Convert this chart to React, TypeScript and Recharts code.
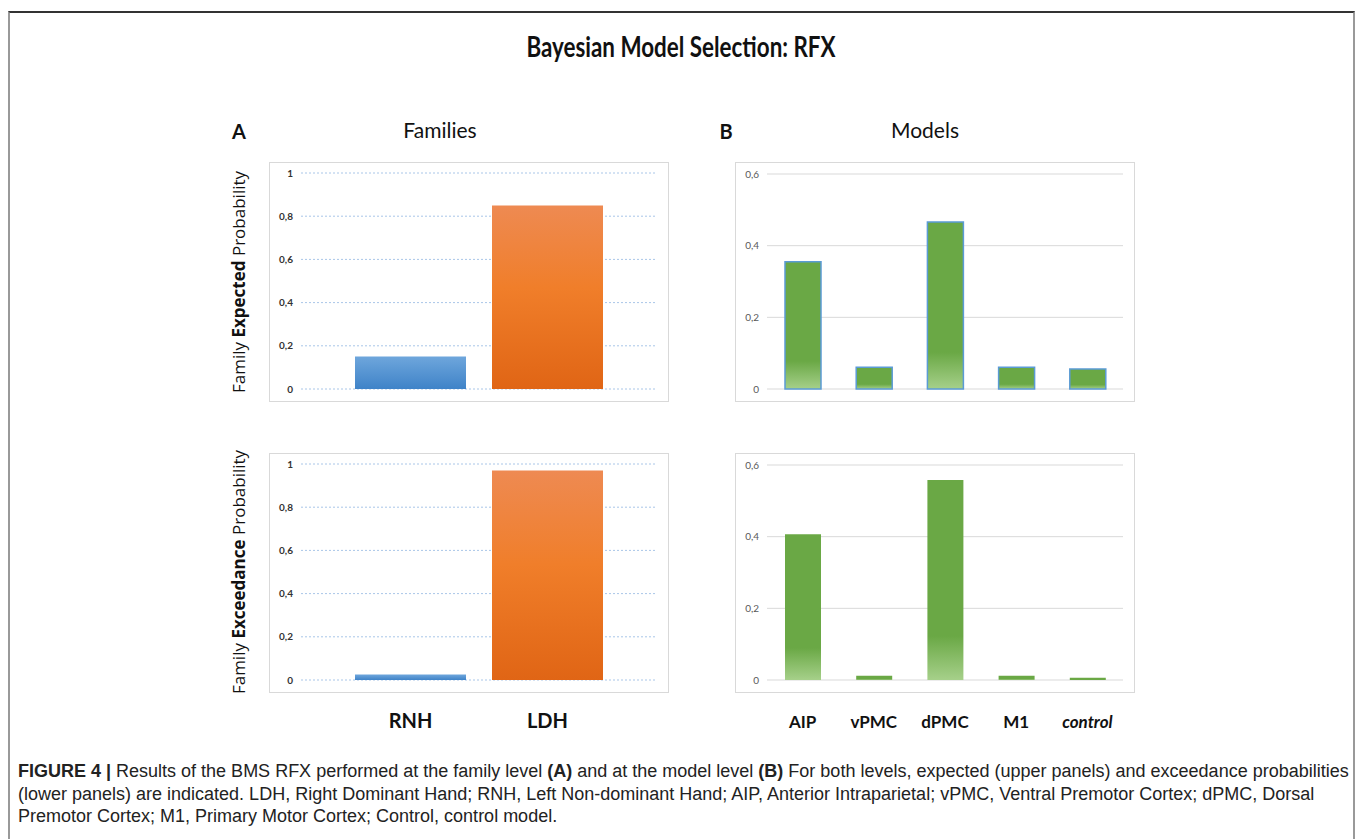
import React from 'react';
import { BarChart, Bar, XAxis, YAxis, CartesianGrid, Cell } from 'recharts';

// families panel (A)
const families = ['RNH', 'LDH'];
const familyExpected = [0.15, 0.85];
const familyExceedance = [0.025, 0.97];
const familyTicks = [0, 0.2, 0.4, 0.6, 0.8, 1];

// models panel (B)
const models = ['AIP', 'vPMC', 'dPMC', 'M1', 'control'];
const modelExpected = [0.355, 0.061, 0.466, 0.061, 0.056];
const modelExceedance = [0.407, 0.012, 0.558, 0.012, 0.006];
const modelTicks = [0, 0.2, 0.4, 0.6];

const familyColors = ['gBlue', 'gOrange'];

const fmt = (v: number) => String(v).replace('.', ',');

const CAL = 'Lato, "Open Sans", sans-serif';

const FamilyTick = (props: any) => {
  const { x, y, payload } = props;
  return (
    <text x={x} y={y} dy="0.71em" textAnchor="middle" fontFamily={CAL} fontWeight={700} fontSize={20} fill="#111">
      {payload.value}
    </text>
  );
};

const ModelTick = (props: any) => {
  const { x, y, payload } = props;
  return (
    <text x={x} y={y} dy="0.71em" textAnchor="middle" fontFamily={CAL} fontWeight={700} fontSize={17}
      fontStyle={payload.value === 'control' ? 'italic' : 'normal'} fill="#111">
      {payload.value}
    </text>
  );
};

const box = (left: number, top: number): React.CSSProperties => ({
  position: 'absolute', left, top, width: 398, height: 238, border: '1px solid #d9d9d9',
});

const FamilyChart = ({ values, top, showX, id }: { values: number[]; top: number; showX: boolean; id: string }) => {
  const data = families.map((name, i) => ({ name, value: values[i] }));
  return (
    <div style={{ position: 'absolute', left: 269, top }}>
      <BarChart width={400} height={showX ? 290 : 240} data={data} margin={{ top: 11, right: 12, bottom: 13, left: 0 }}>
        <defs>
          <linearGradient id={`gBlue${id}`} x1="0" y1="0" x2="0" y2="1">
            <stop offset="0%" stopColor="#6ea6dc" />
            <stop offset="100%" stopColor="#3f83c8" />
          </linearGradient>
          <linearGradient id={`gOrange${id}`} x1="0" y1="0" x2="0" y2="1">
            <stop offset="0%" stopColor="#ee8a52" />
            <stop offset="45%" stopColor="#f07e2a" />
            <stop offset="100%" stopColor="#e06515" />
          </linearGradient>
        </defs>
        <CartesianGrid vertical={false} stroke="#a9c6e8" strokeDasharray="2 2" />
        <XAxis dataKey="name" hide={!showX} height={50} axisLine={false} tickLine={false}
          padding={{ left: 41, right: 41 }} tick={<FamilyTick />} tickMargin={28} interval={0} />
        <YAxis width={32} domain={[0, 1]} ticks={familyTicks} tickFormatter={fmt} axisLine={false} tickLine={false}
          tick={{ fontFamily: CAL, fontWeight: 700, fontSize: 10, fill: '#333' }} />
        <Bar dataKey="value" barSize={111} isAnimationActive={false}>
          {data.map((d, i) => (
            <Cell key={d.name} fill={`url(#${familyColors[i]}${id})`} />
          ))}
        </Bar>
      </BarChart>
    </div>
  );
};

const ModelChart = ({ values, top, showX, outlined, id }: { values: number[]; top: number; showX: boolean; outlined: boolean; id: string }) => {
  const data = models.map((name, i) => ({ name, value: values[i] }));
  return (
    <div style={{ position: 'absolute', left: 735, top }}>
      <BarChart width={400} height={showX ? 290 : 240} data={data} margin={{ top: 12, right: 12, bottom: 13, left: 0 }}>
        <defs>
          <linearGradient id={`gGreen${id}`} x1="0" y1="0" x2="0" y2="1">
            <stop offset="0%" stopColor="#6aa845" />
            <stop offset="78%" stopColor="#6aa845" />
            <stop offset="100%" stopColor="#a6d08a" />
          </linearGradient>
        </defs>
        <CartesianGrid vertical={false} stroke="#d9d9d9" />
        <XAxis dataKey="name" hide={!showX} height={50} axisLine={false} tickLine={false}
          tick={<ModelTick />} tickMargin={30} interval={0} />
        <YAxis width={32} domain={[0, 0.6]} ticks={modelTicks} tickFormatter={fmt} axisLine={false} tickLine={false}
          tick={{ fontFamily: CAL, fontSize: 10, fill: '#595959' }} />
        <Bar dataKey="value" barSize={36} fill={`url(#gGreen${id})`}
          stroke={outlined ? '#5b9bd5' : 'none'} strokeWidth={1.5} isAnimationActive={false} />
      </BarChart>
    </div>
  );
};

const sideLabel = (top: number): React.CSSProperties => ({
  position: 'absolute', left: 238, top, transform: 'translate(-50%, -50%) rotate(-90deg)',
  whiteSpace: 'nowrap', fontFamily: '"Open Sans", sans-serif', fontSize: 17, color: '#111',
});

const panelHead: React.CSSProperties = {
  position: 'absolute', fontFamily: CAL, fontSize: 20, color: '#111', transform: 'translate(-50%, -50%)', whiteSpace: 'nowrap',
};

export default function App() {
  return (
    <div style={{ position: 'absolute', left: 0, top: 0, width: 1360, height: 839, background: '#fff', overflow: 'hidden' }}>
      <div style={{
        position: 'absolute', left: 8, top: 11, width: 1343, height: 840,
        borderTop: '2px solid #333', borderLeft: '2px solid #999', borderRight: '2px solid #999',
      }} />

      <div style={{ ...panelHead, left: 681, top: 46, fontSize: 28, fontWeight: 700, transform: 'translate(-50%, -50%) scaleX(0.8)' }}>
        Bayesian Model Selection: RFX
      </div>
      <div style={{ ...panelHead, left: 239, top: 131, fontWeight: 700 }}>A</div>
      <div style={{ ...panelHead, left: 440, top: 129, fontSize: 21 }}>Families</div>
      <div style={{ ...panelHead, left: 726, top: 131, fontWeight: 700 }}>B</div>
      <div style={{ ...panelHead, left: 925, top: 129, fontSize: 21 }}>Models</div>

      <div style={sideLabel(282)}>Family <b>Expected</b> Probability</div>
      <div style={sideLabel(572)}>Family <b>Exceedance</b> Probability</div>

      <div style={box(269, 162)} />
      <div style={box(269, 453)} />
      <div style={box(735, 162)} />
      <div style={box(735, 453)} />

      <FamilyChart values={familyExpected} top={162} showX={false} id="a1" />
      <FamilyChart values={familyExceedance} top={453} showX={true} id="a2" />
      <ModelChart values={modelExpected} top={162} showX={false} outlined={true} id="b1" />
      <ModelChart values={modelExceedance} top={453} showX={true} outlined={false} id="b2" />

      <div style={{
        position: 'absolute', left: 18, top: 760, whiteSpace: 'nowrap', fontFamily: '"Liberation Sans", Arial, sans-serif',
        fontSize: 18, lineHeight: '22.5px', color: '#222',
      }}>
        <b>FIGURE 4 |</b> Results of the BMS RFX performed at the family level <b>(A)</b> and at the model level <b>(B)</b> For both levels, expected (upper panels) and exceedance probabilities<br />
        (lower panels) are indicated. LDH, Right Dominant Hand; RNH, Left Non-dominant Hand; AIP, Anterior Intraparietal; vPMC, Ventral Premotor Cortex; dPMC, Dorsal<br />
        Premotor Cortex; M1, Primary Motor Cortex; Control, control model.
      </div>
    </div>
  );
}
